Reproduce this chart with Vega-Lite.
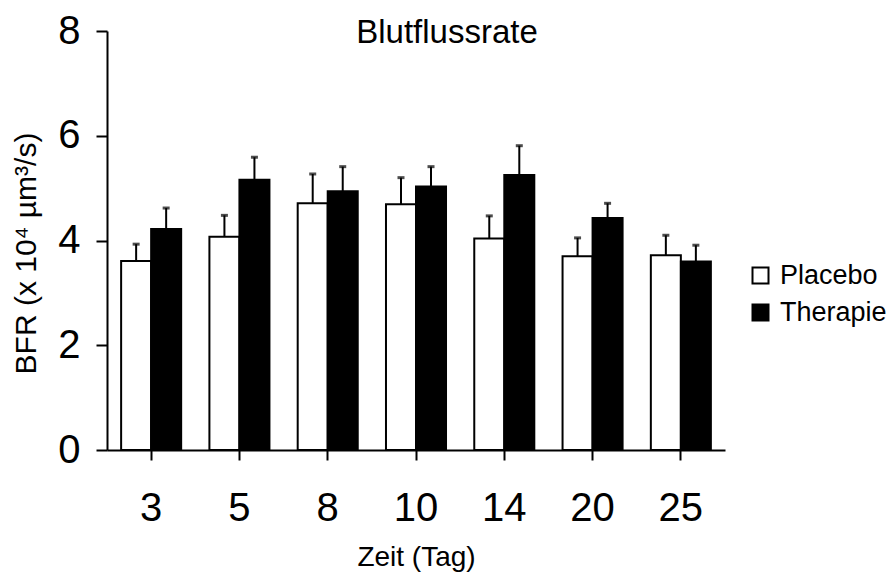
{
  "$schema": "https://vega.github.io/schema/vega-lite/v6.json",
  "width": 618,
  "height": 419,
  "autosize": {"type": "none"},
  "padding": {"left": 107, "top": 31, "right": 167, "bottom": 124},
  "background": "white",
  "config": {
    "font": "Liberation Sans",
    "view": {"stroke": null},
    "axis": {"grid": false, "domainColor": "black", "domainWidth": 2, "tickColor": "black", "tickWidth": 2, "labelColor": "black", "titleColor": "black", "titleFontWeight": "normal", "labelFont": "Liberation Sans", "titleFont": "Liberation Sans"}
  },
  "title": {"text": "Blutflussrate", "fontSize": 33, "fontWeight": "normal", "color": "black", "anchor": "middle", "frame": "group", "dx": 31, "baseline": "alphabetic", "offset": -65, "font": "Liberation Sans"},
  "data": {"values": [
    {"day": "3", "group": "Placebo", "value": 3.61, "upper": 3.93},
    {"day": "3", "group": "Therapie", "value": 4.22, "upper": 4.62},
    {"day": "5", "group": "Placebo", "value": 4.07, "upper": 4.48},
    {"day": "5", "group": "Therapie", "value": 5.16, "upper": 5.59},
    {"day": "8", "group": "Placebo", "value": 4.71, "upper": 5.27},
    {"day": "8", "group": "Therapie", "value": 4.94, "upper": 5.41},
    {"day": "10", "group": "Placebo", "value": 4.69, "upper": 5.2},
    {"day": "10", "group": "Therapie", "value": 5.03, "upper": 5.41},
    {"day": "14", "group": "Placebo", "value": 4.04, "upper": 4.47},
    {"day": "14", "group": "Therapie", "value": 5.25, "upper": 5.81},
    {"day": "20", "group": "Placebo", "value": 3.7, "upper": 4.05},
    {"day": "20", "group": "Therapie", "value": 4.43, "upper": 4.71},
    {"day": "25", "group": "Placebo", "value": 3.72, "upper": 4.1},
    {"day": "25", "group": "Therapie", "value": 3.6, "upper": 3.91}
  ]},
  "encoding": {
    "x": {"field": "day", "type": "nominal", "sort": ["3", "5", "8", "10", "14", "20", "25"],
      "scale": {"paddingInner": 0.32, "paddingOuter": 0.16},
      "axis": {"title": "Zeit (Tag)", "labelAngle": 0, "labelFontSize": 40, "tickSize": 10, "labelPadding": 28, "titleFontSize": 28, "titlePadding": 15}},
    "xOffset": {"field": "group", "type": "nominal", "sort": ["Placebo", "Therapie"], "scale": {"paddingInner": 0, "paddingOuter": 0}}
  },
  "layer": [
    {
      "mark": {"type": "rule", "stroke": "black", "strokeWidth": 2},
      "encoding": {
        "y": {"field": "value", "type": "quantitative"},
        "y2": {"field": "upper"}
      }
    },
    {
      "mark": {"type": "tick", "orient": "horizontal", "color": "black", "thickness": 3, "size": 7},
      "encoding": {
        "y": {"field": "upper", "type": "quantitative"}
      }
    },
    {
      "mark": {"type": "bar", "stroke": "black", "strokeWidth": 2},
      "encoding": {
        "y": {"field": "value", "type": "quantitative", "scale": {"domain": [0, 8], "nice": false},
          "axis": {"values": [0, 2, 4, 6, 8], "title": "BFR (x 10⁴ µm³/s)", "labelFontSize": 40, "tickSize": 11, "labelPadding": 16, "titleFontSize": 30, "titlePadding": 16, "titleY": 222}},
        "fill": {"field": "group", "type": "nominal", "scale": {"domain": ["Placebo", "Therapie"], "range": ["white", "black"]},
          "legend": {"title": null, "orient": "none", "legendX": 640, "legendY": 231, "symbolType": "square", "symbolSize": 256, "symbolStrokeColor": "black", "symbolStrokeWidth": 2, "labelFontSize": 27, "labelColor": "black", "rowPadding": 9, "labelOffset": 6, "labelFont": "Liberation Sans"}}
      }
    }
  ]
}
